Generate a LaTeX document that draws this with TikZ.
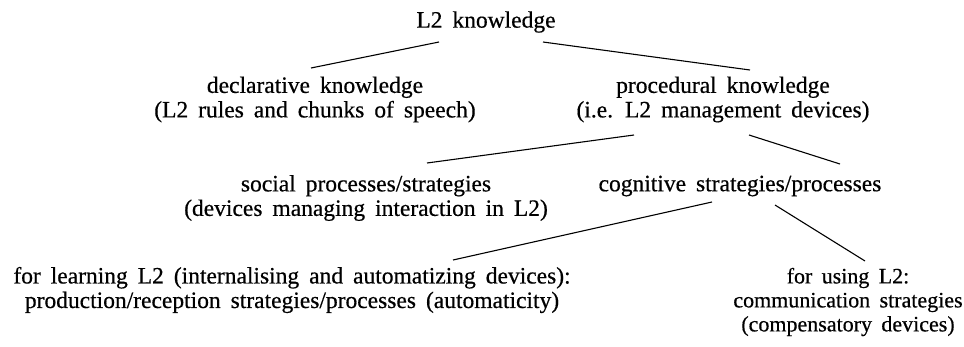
\documentclass[tikz,border=0pt]{standalone}
\usepackage{fontspec}
\setmainfont{Liberation Serif}[WordSpace=1.7,FakeBold=0.5]
\usetikzlibrary{calc}
\begin{document}
\begin{tikzpicture}[x=1pt,y=-1pt,
  lbl/.style={inner sep=0pt,align=center,font=\fontsize{23.5}{24.5}\selectfont},
  link/.style={line width=1.1pt,black}]
\useasboundingbox (0,0) rectangle (964,346);
\node[lbl] (top) at (486,22) {L2 knowledge};
\node[lbl] (decl) at (315,99.5) {declarative knowledge\\(L2 rules and chunks of speech)};
\node[lbl] (proc) at (723,99.5) {procedural knowledge\\(i.e. L2 management devices)};
\node[lbl] (social) at (366,198) {social processes/strategies\\(devices managing interaction in L2)};
\node[lbl] (cog) at (740,186) {cognitive strategies/processes};
\node[lbl] (learn) at (292,290) {for learning L2 (internalising and automatizing devices):\\production/reception strategies/processes (automaticity)};
\node[lbl,font=\fontsize{22}{24}\selectfont] (use) at (848,302) {for using L2:\\communication strategies\\(compensatory devices)};
\draw[link] ($(top)+(-47,20)$) -- ($(decl)+(-4,-31.5)$);
\draw[link] ($(top)+(57,20)$) -- ($(proc)+(27,-29.5)$);
\draw[link] ($(proc)+(-89,35.5)$) -- ($(social)+(61,-35)$);
\draw[link] ($(proc)+(26,35.5)$) -- ($(cog)+(100,-22)$);
\draw[link] ($(cog)+(-28,16)$) -- ($(learn)+(161,-30)$);
\draw[link] ($(cog)+(35,19)$) -- ($(use)+(17,-41)$);
\end{tikzpicture}
\end{document}
